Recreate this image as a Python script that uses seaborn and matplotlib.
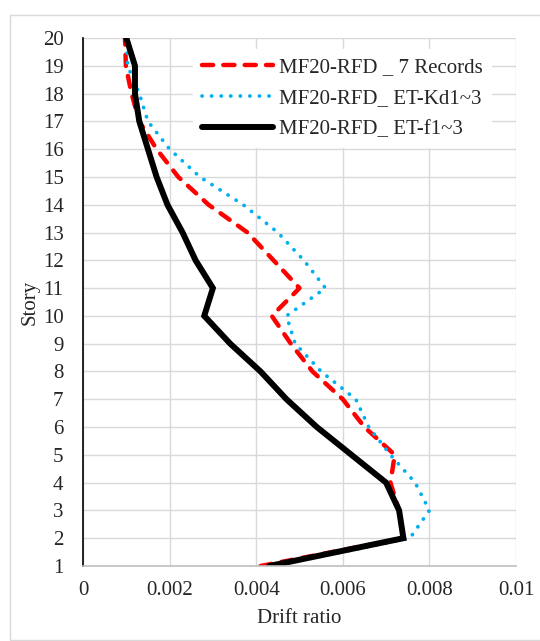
import seaborn as sns
import matplotlib.pyplot as plt
import matplotlib.patches as mpatches
import pandas as pd

# dados
story = list(range(1, 21))
records7 = [0.0041, 0.0074, 0.0073, 0.0071, 0.0072, 0.0065, 0.0060, 0.0053, 0.0048, 0.00436,
            0.0050, 0.0044, 0.0038, 0.0029, 0.0022, 0.0017, 0.0013, 0.00112, 0.00099, 0.00097]
et_kd = [0.0044, 0.00755, 0.0080, 0.00767, 0.0071, 0.0066, 0.0063, 0.0055, 0.0049, 0.0047,
         0.0056, 0.0051, 0.0045, 0.0037, 0.0027, 0.0020, 0.0015, 0.0013, 0.00103, 0.00101]
et_f = [0.0043, 0.0074, 0.0073, 0.0070, 0.0062, 0.0054, 0.0047, 0.0041, 0.0034, 0.0028,
        0.0030, 0.0026, 0.0023, 0.00195, 0.0017, 0.0015, 0.0013, 0.0012, 0.0012, 0.0010]
names = ["MF20-RFD _ 7 Records", "MF20-RFD_ ET-Kd1~3", "MF20-RFD_ ET-f1~3"]
x_ticks = [0, 0.002, 0.004, 0.006, 0.008, 0.01]
x_ticklabels = ["0", "0.002", "0.004", "0.006", "0.008", "0.01"]

df = pd.DataFrame({"story": story, names[0]: records7, names[1]: et_kd, names[2]: et_f})

sns.set_style("white")
plt.rcParams["font.family"] = ["Liberation Serif", "DejaVu Serif"]

fig = plt.figure(figsize=(5.4, 6.41), dpi=100)
ax = fig.add_axes([83 / 540, 1 - 566 / 641, 433 / 540, 528 / 641])

# borda do grafico (estilo Excel)
fig.patches.append(mpatches.Rectangle((10 / 540, 1 / 641), 560 / 540, 625 / 641,
                                      transform=fig.transFigure, fill=False,
                                      edgecolor="#D9D9D9", linewidth=1.0))

sns.lineplot(data=df, x=names[0], y="story", orient="y", sort=False, ax=ax,
             color="#FF0000", linewidth=3.2, linestyle=(0, (2.5, 2.3)),
             dash_capstyle="round", label=names[0])
sns.lineplot(data=df, x=names[1], y="story", orient="y", sort=False, ax=ax,
             color="#00B0F0", linewidth=2.7, linestyle=(0, (0.05, 2.5)),
             dash_capstyle="round", label=names[1])
sns.lineplot(data=df, x=names[2], y="story", orient="y", sort=False, ax=ax,
             color="black", linewidth=4.3, solid_capstyle="round",
             solid_joinstyle="miter", label=names[2])

ax.set_xlim(0, 0.01)
ax.set_ylim(1, 20)
ax.set_xticks(x_ticks)
ax.set_xticklabels(x_ticklabels)
ax.set_yticks(story)
ax.grid(True, color="#D9D9D9", linewidth=1.0)
ax.set_axisbelow(True)
for s in ["top", "right"]:
    ax.spines[s].set_visible(False)
ax.spines["left"].set_color("black")
ax.spines["left"].set_linewidth(1.2)
ax.spines["bottom"].set_color("#BFBFBF")
ax.spines["bottom"].set_linewidth(1.2)
ax.tick_params(axis="y", length=0, pad=14, labelsize=15)
ax.tick_params(axis="x", length=0, pad=11, labelsize=15)

ax.set_xlabel("Drift ratio", fontsize=15, labelpad=6)
ax.set_ylabel("Story", fontsize=15, labelpad=2)

leg = ax.legend(loc="upper left", bbox_to_anchor=(0.255, 0.979), fontsize=15,
                frameon=True, facecolor="white", edgecolor="white", framealpha=1,
                handlelength=3.4, handletextpad=0.3, labelspacing=0.55,
                borderaxespad=0, fancybox=False)

plt.savefig("out.png", dpi=100)
